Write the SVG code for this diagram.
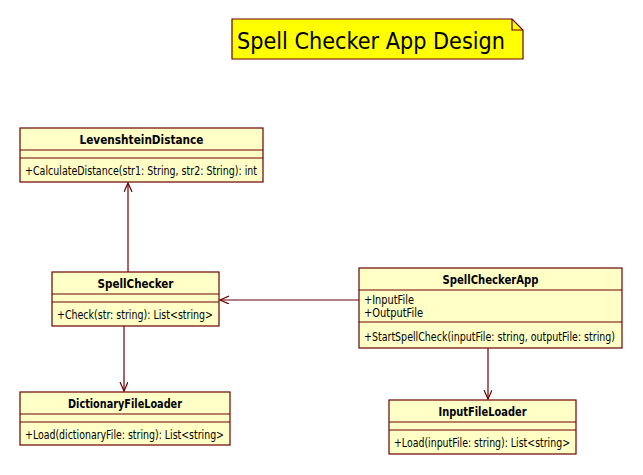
<svg xmlns="http://www.w3.org/2000/svg" width="643" height="475" viewBox="0 0 643 475">
<style>
.box{fill:#FFFFC6;stroke:#6B0000;stroke-width:1.2}
.ln{stroke:#6B0000;stroke-width:1.2;fill:none}
.t{font-family:"DejaVu Sans","Liberation Sans",sans-serif;font-size:11.5px;fill:#000}
.b{font-weight:bold;text-anchor:middle}
.title{font-family:"DejaVu Sans","Liberation Sans",sans-serif;font-size:23px;fill:#000}
</style>
<defs>
<marker id="open" markerWidth="12" markerHeight="12" refX="9" refY="4" orient="auto" markerUnits="userSpaceOnUse">
<path d="M0,0 L9,4 L0,8" fill="none" stroke="#6B0000" stroke-width="1.2"/>
</marker>
</defs>
<rect width="643" height="475" fill="#fff"/>
<g id="title">
<path d="M232,19 L512,19 L523,30 L523,59 L232,59 Z" fill="#FFFF00" stroke="#6B0000" stroke-width="1.2"/>
<path d="M512,19 L512,30 L523,30" class="ln"/>
<text x="237" y="49" class="title" textLength="268" lengthAdjust="spacingAndGlyphs">Spell Checker App Design</text>
</g>
<g id="connectors">
<line x1="128" y1="272" x2="128" y2="183" class="ln" marker-end="url(#open)"/>
<line x1="359" y1="300" x2="220" y2="300" class="ln" marker-end="url(#open)"/>
<line x1="124" y1="326" x2="124" y2="391" class="ln" marker-end="url(#open)"/>
<line x1="488" y1="348" x2="488" y2="399" class="ln" marker-end="url(#open)"/>
</g>
<g id="LevenshteinDistance">
<rect x="20" y="128" width="243" height="54" class="box"/>
<line x1="20" y1="150" x2="263" y2="150" class="ln"/>
<line x1="20" y1="158" x2="263" y2="158" class="ln"/>
<text x="141.5" y="143.5" class="t b" textLength="124" lengthAdjust="spacingAndGlyphs">LevenshteinDistance</text>
<text x="25" y="174.5" class="t" textLength="232" lengthAdjust="spacingAndGlyphs">+CalculateDistance(str1: String, str2: String): int</text>
</g>
<g id="SpellChecker">
<rect x="52" y="272" width="167" height="54" class="box"/>
<line x1="52" y1="294" x2="219" y2="294" class="ln"/>
<line x1="52" y1="302" x2="219" y2="302" class="ln"/>
<text x="135.5" y="287.5" class="t b" textLength="76" lengthAdjust="spacingAndGlyphs">SpellChecker</text>
<text x="57" y="318.5" class="t" textLength="156" lengthAdjust="spacingAndGlyphs">+Check(str: string): List&lt;string&gt;</text>
</g>
<g id="SpellCheckerApp">
<rect x="359" y="268" width="263" height="80" class="box"/>
<line x1="359" y1="290" x2="622" y2="290" class="ln"/>
<line x1="359" y1="322" x2="622" y2="322" class="ln"/>
<text x="490.5" y="283.5" class="t b" textLength="96" lengthAdjust="spacingAndGlyphs">SpellCheckerApp</text>
<text x="364" y="303.5" class="t" textLength="50" lengthAdjust="spacingAndGlyphs">+InputFile</text>
<text x="364" y="316.5" class="t" textLength="59" lengthAdjust="spacingAndGlyphs">+OutputFile</text>
<text x="364" y="340.5" class="t" textLength="251" lengthAdjust="spacingAndGlyphs">+StartSpellCheck(inputFile: string, outputFile: string)</text>
</g>
<g id="DictionaryFileLoader">
<rect x="20" y="392" width="210" height="53" class="box"/>
<line x1="20" y1="414" x2="230" y2="414" class="ln"/>
<line x1="20" y1="422" x2="230" y2="422" class="ln"/>
<text x="125" y="407.5" class="t b" textLength="114" lengthAdjust="spacingAndGlyphs">DictionaryFileLoader</text>
<text x="25" y="438.5" class="t" textLength="199" lengthAdjust="spacingAndGlyphs">+Load(dictionaryFile: string): List&lt;string&gt;</text>
</g>
<g id="InputFileLoader">
<rect x="389" y="400" width="187" height="54" class="box"/>
<line x1="389" y1="422" x2="576" y2="422" class="ln"/>
<line x1="389" y1="430" x2="576" y2="430" class="ln"/>
<text x="482.5" y="415.5" class="t b" textLength="88" lengthAdjust="spacingAndGlyphs">InputFileLoader</text>
<text x="394" y="446.5" class="t" textLength="176" lengthAdjust="spacingAndGlyphs">+Load(inputFile: string): List&lt;string&gt;</text>
</g>
</svg>
